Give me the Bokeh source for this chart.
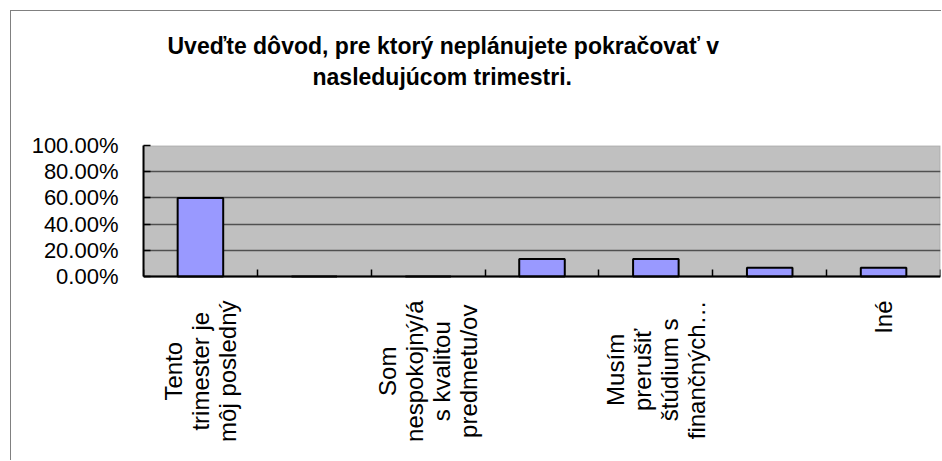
import math
from bokeh.plotting import figure
from bokeh.models import (ColumnDataSource, FixedTicker, NumeralTickFormatter,
                          Title, Range1d, BoxAnnotation)
from bokeh.core.properties import value
from bokeh.embed import file_html
from bokeh.resources import INLINE

# ---- data ----
categories = [
    "Tento\ntrimester je\nmôj posledný",
    "",
    "Som\nnespokojný/á\ns kvalitou\npredmetu/ov",
    "",
    "Musím\nprerušiť\nštúdium s\nfinančných…",
    "",
    "Iné",
]
values = [0.60, 0.0, 0.0, 0.1333, 0.1333, 0.0667, 0.0667]
y_ticks = [0.0, 0.2, 0.4, 0.6, 0.8, 1.0]
title_lines = ["Uveďte dôvod, pre ktorý neplánujete pokračovať v",
               "nasledujúcom trimestri."]

positions = list(range(1, len(categories) + 1))
source = ColumnDataSource(dict(x=positions, top=values))
label_source = ColumnDataSource(dict(
    x=[pos for pos, c in zip(positions, categories) if c],
    text=[c for c in categories if c]))

FONT = "Liberation Sans"

# layout (pixels): plot frame 316 px tall, value axis 0..1 spans 131 px
FRAME_H, VALUE_H = 316, 131
y_min = -(FRAME_H - VALUE_H) / VALUE_H

p = figure(width=931, height=450, output_backend="svg", toolbar_location=None,
           x_range=Range1d(0.5, len(categories) + 0.5), y_range=Range1d(y_min, 1),
           min_border_left=132, min_border_right=2, min_border_top=134,
           min_border_bottom=0)

# chart-area border (left/top edges visible in the window)
p.styles = {"margin-left": "10px", "margin-top": "10px",
            "border-left": "1px solid #808080", "border-top": "1px solid #808080"}

p.background_fill_color = "white"
p.border_fill_color = "white"
p.outline_line_color = None

# grey plot area
p.add_layout(BoxAnnotation(bottom=0, top=1, fill_color="#C0C0C0", fill_alpha=1,
                           line_color="#808080", line_width=2, level="image"))

p.vbar(x="x", top="top", width=0.4, source=source,
       fill_color="#9999FF", line_color="black", line_width=2)

# y axis
p.yaxis.ticker = FixedTicker(ticks=y_ticks)
p.yaxis.bounds = (0, 1)
p.yaxis.formatter = NumeralTickFormatter(format="0.00%")
p.yaxis.major_tick_in = 7
p.yaxis.major_tick_out = 0
p.yaxis.minor_tick_line_color = None
p.yaxis.axis_line_color = "black"
p.yaxis.axis_line_width = 2
p.yaxis.major_tick_line_color = "black"
p.yaxis.major_tick_line_width = 1.5
p.yaxis.major_label_text_font = FONT
p.yaxis.major_label_text_font_size = "22px"
p.yaxis.major_label_text_color = "black"
p.yaxis.major_label_standoff = 25

# x axis at value 0, ticks at category boundaries
p.xaxis.fixed_location = 0
p.xaxis.ticker = FixedTicker(ticks=[],
                             minor_ticks=[i + 0.5 for i in range(len(categories) + 1)])
p.xaxis.major_tick_line_color = None
p.xaxis.major_label_text_color = None
p.xaxis.minor_tick_in = 7
p.xaxis.minor_tick_out = 0
p.xaxis.minor_tick_line_color = "black"
p.xaxis.minor_tick_line_width = 1.5
p.xaxis.axis_line_color = "black"
p.xaxis.axis_line_width = 2

# category labels, rotated, lines centred, upper end just below the axis
p.text(x="x", y=-24 / VALUE_H, text="text", source=label_source,
       angle=math.pi / 2, anchor="center_right", text_align="center",
       text_font=value(FONT), text_font_size="24px", text_line_height=1.0,
       text_color="black")

p.xgrid.grid_line_color = None
p.ygrid.ticker = FixedTicker(ticks=y_ticks)
p.ygrid.grid_line_color = "#505050"
p.ygrid.grid_line_width = 1.5

# title: spacer + two bold lines, stacked upward from the plot frame
p.add_layout(Title(text=" ", text_font_size="21px", standoff=30), "above")
p.add_layout(Title(text=title_lines[1], align="left", offset=169, standoff=2,
                   text_font=FONT, text_font_style="bold", text_font_size="23px",
                   text_color="black"), "above")
p.add_layout(Title(text=title_lines[0], align="left", offset=24, standoff=4,
                   text_font=FONT, text_font_style="bold", text_font_size="23px",
                   text_color="black"), "above")

open("out.html", "w").write(file_html(p, INLINE))
